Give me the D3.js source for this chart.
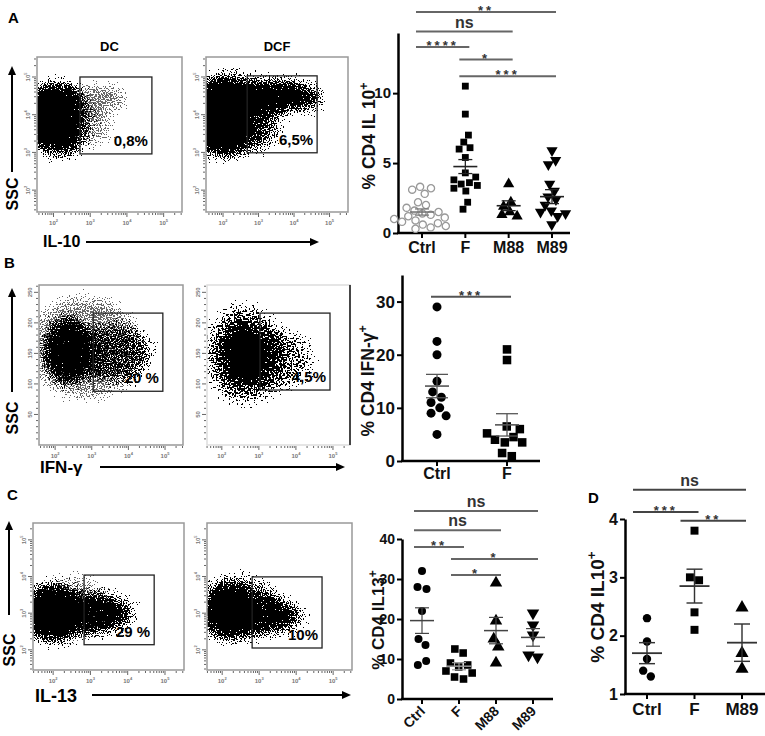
<!DOCTYPE html>
<html>
<head>
<meta charset="utf-8">
<script src="https://cdn.jsdelivr.net/npm/d3@7"></script>
<style>
body { margin: 0; background: #fff; }
text { font-family: "Liberation Sans", Arial, sans-serif; font-weight: bold; }
</style>
</head>
<body>
<svg id="fig" width="765" height="736"></svg>
<script>
// ---------- dot plot data ----------
// A : % CD4 IL10+
var catsA = ["Ctrl", "F", "M88", "M89"];
var il10Ctrl = [3.3, 3.2, 3.1, 2.8, 2.2, 2.0, 1.8, 1.6, 1.5, 1.4, 1.3, 1.2, 1.1, 1.0, 0.9, 0.8, 0.7, 0.6, 0.5, 0.4, 0.3];
var il10F = [10.5, 8.5, 7.0, 6.5, 6.1, 6.0, 5.4, 4.3, 4.0, 3.8, 3.6, 3.5, 3.4, 3.2, 3.0, 2.2, 1.7];
var il10M88 = [3.5, 2.2, 1.9, 1.5, 1.3, 1.2];
var il10M89 = [5.9, 5.2, 4.9, 3.5, 3.0, 2.6, 2.4, 2.0, 1.6, 1.5, 1.4, 1.2, 0.6];
var il10Mean = [1.5, 4.75, 1.95, 2.6];
var il10Sem = [0.22, 0.5, 0.35, 0.5];
var il10Ticks = [0, 5, 10];
// [from, to, label, height in axis units]
var il10Sig = [["Ctrl", "M89", "**", 15.8], ["Ctrl", "M88", "ns", 14.4], ["Ctrl", "F", "****", 13.3],
               ["F", "M88", "*", 12.4], ["F", "M89", "***", 11.2]];

// B : % CD4 IFN-g+
var catsB = ["Ctrl", "F"];
var ifnCtrl = [29, 22.5, 20, 15, 13, 12, 11, 10, 9, 8.5, 5];
var ifnF = [21, 19, 6.5, 6.0, 5.2, 4.5, 4.0, 3.5, 3.5, 1.5, 0.9];
var ifnMean = [14.1, 6.8];
var ifnSem = [2.2, 2.1];
var ifnTicks = [0, 10, 20, 30];
var ifnSig = [["Ctrl", "F", "***", 30.9]];

// C : % CD4 IL13+
var catsC = ["Ctrl", "F", "M88", "M89"];
var il13Ctrl = [32, 28, 27.5, 22, 15, 13.5, 9.5, 8.5];
var il13F = [12.5, 11.5, 9.0, 8.5, 8.0, 7.0, 6.5, 5.5, 5.0];
var il13M88 = [29, 19.5, 15, 13, 9];
var il13M89 = [21.5, 18.5, 16, 11, 10.5];
var il13Mean = [19.6, 8.2, 17.1, 15.4];
var il13Sem = [3.2, 0.9, 3.3, 2.2];
var il13Ticks = [0, 10, 20, 30, 40];
var il13Sig = [["Ctrl", "M89", "ns", 47], ["Ctrl", "M88", "ns", 42.2], ["Ctrl", "F", "**", 38],
               ["F", "M89", "*", 35], ["F", "M88", "*", 31]];

// D : % CD4 IL10+
var catsD = ["Ctrl", "F", "M89"];
var dIl10Ctrl = [2.3, 1.9, 1.6, 1.4, 1.3];
var dIl10F = [3.8, 3.0, 2.95, 2.4, 2.1];
var dIl10M89 = [2.48, 1.7, 1.43];
var dIl10Mean = [1.7, 2.85, 1.88];
var dIl10Sem = [0.18, 0.29, 0.32];
var dIl10Ticks = [1, 2, 3, 4];
var dIl10Sig = [["Ctrl", "M89", "ns", 4.5], ["Ctrl", "F", "***", 4.12], ["F", "M89", "**", 3.97]];

// ---------- flow cytometry data ----------
// event populations: [log10 fluor centre, SSC centre, fluor spread, SSC spread, density, tone]
var dcPops = [[2.05, 4.3, 0.68, 0.48, 1, "k"], [2.05, 3.55, 0.68, 0.45, 1, "k"], [2.2, 3.85, 0.85, 0.95, 0.5, "k"],
              [3.2, 4.45, 0.75, 0.3, 0.58, "g"], [3.0, 3.7, 0.55, 0.45, 0.5, "g"]];
var dcfPops = [[2.0, 4.4, 0.75, 0.55, 1, "k"], [2.0, 3.6, 0.75, 0.65, 1, "k"], [3.3, 4.5, 1.15, 0.38, 0.95, "k"],
               [4.3, 4.45, 0.5, 0.3, 0.6, "k"], [3.0, 3.7, 0.6, 0.6, 0.5, "k"], [2.2, 4.0, 1.0, 1.05, 0.52, "k"]];
var ifnDcPops = [[2.35, 155, 0.6, 52, 0.95, "k"], [3.6, 150, 1.0, 46, 0.62, "k"], [2.8, 160, 1.5, 80, 0.55, "g"]];
var ifnDcfPops = [[2.6, 148, 0.52, 46, 1, "d"], [2.6, 148, 1.0, 78, 0.52, "d"], [3.6, 140, 0.8, 45, 0.48, "d"]];
var il13DcPops = [[2.0, 3.0, 0.85, 0.72, 1, "k"], [3.1, 3.0, 0.75, 0.5, 0.92, "k"], [3.8, 3.0, 0.36, 0.34, 0.62, "k"],
                  [2.5, 3.15, 1.05, 0.78, 0.5, "g"]];
var il13DcfPops = [[2.2, 3.05, 0.7, 0.72, 1, "k"], [3.1, 2.95, 0.8, 0.46, 0.86, "k"], [3.8, 2.9, 0.36, 0.3, 0.58, "k"],
                   [2.5, 3.15, 1.0, 0.8, 0.5, "k"]];
// gates: [x0, y0, x1, y1] in data units, and the % read in each
var dcGate = [2.72, 2.96, 4.68, 5.0], dcfGate = [2.68, 2.99, 4.65, 5.03];
var ifnDcGate = [3.04, 88, 4.94, 216], ifnDcfGate = [3.03, 90, 4.92, 216];
var il13DcGate = [2.83, 2.14, 4.71, 4.04], il13DcfGate = [2.81, 2.05, 4.70, 3.99];
var gatePct = ["0,8%", "6,5%", "20 %", "4,5%", "29 %", "10%"];
var logTickLabels = [2, 3, 4, 5];
var sscTickLabels = [50, 100, 150, 200, 250];

var svg = d3.select("#fig");
var defs = svg.append("defs");

//speckle filter: blurred density minus noise, thresholded -> looks like a dot cloud
//(baseFrequency must stay off whole numbers, perlin noise is flat on its lattice)
function speckFilter(id, color, freq, seed) {
	var f = defs.append("filter").attr("id", id)
		.attr("filterUnits", "userSpaceOnUse")
		.attr("x", 0).attr("y", 0).attr("width", 765).attr("height", 736)
		.attr("color-interpolation-filters", "sRGB");
	f.append("feGaussianBlur").attr("in", "SourceAlpha").attr("stdDeviation", 7).attr("result", "b");
	f.append("feTurbulence").attr("type", "fractalNoise").attr("baseFrequency", freq)
		.attr("numOctaves", 1).attr("seed", seed).attr("result", "n");
	f.append("feColorMatrix").attr("in", "n").attr("type", "matrix")
		.attr("values", "0 0 0 0 0 0 0 0 0 0 0 0 0 0 0 2.2 0 0 0 -0.6").attr("result", "na");
	f.append("feComposite").attr("in", "b").attr("in2", "na").attr("operator", "arithmetic")
		.attr("k1", 0).attr("k2", 1.15).attr("k3", -1).attr("k4", 0).attr("result", "d");
	f.append("feComponentTransfer").attr("in", "d").attr("result", "t")
		.append("feFuncA").attr("type", "discrete").attr("tableValues", "0 1 1 1 1 1 1 1 1 1");
	f.append("feFlood").attr("flood-color", color).attr("result", "c");
	f.append("feComposite").attr("in", "c").attr("in2", "t").attr("operator", "in");
}
speckFilter("speck-k", "#000", 0.85, 3);
speckFilter("speck-g", "#666", 0.75, 7);
speckFilter("speck-d", "#000", 0.55, 11);

var flowCount = 0;
function flowPlot(p) {
	flowCount++;
	var g = svg.append("g");
	var x = d3.scaleLinear().domain(p.xDomain).range([p.box[0], p.box[2]]);
	var y = d3.scaleLinear().domain(p.yDomain).range([p.box[3], p.box[1]]);
	var clipId = "flowclip" + flowCount;
	defs.append("clipPath").attr("id", clipId).append("rect")
		.attr("x", p.box[0]).attr("y", p.box[1])
		.attr("width", p.box[2] - p.box[0]).attr("height", p.box[3] - p.box[1]);

	//blur eats into the shapes, so grow them a little
	var grow = 3;
	var cl = g.append("g").attr("clip-path", "url(#" + clipId + ")");
	["g", "k", "d"].forEach(function(tone) {
		var pops = p.pops.filter(function(d) { return d[5] === tone; });
		if (!pops.length) return;
		cl.append("g").attr("filter", "url(#speck-" + tone + ")")
			.selectAll("ellipse").data(pops).enter().append("ellipse")
			.attr("cx", function(d) { return x(d[0]); })
			.attr("cy", function(d) { return y(d[1]); })
			.attr("rx", function(d) { return Math.abs(x(d[0] + d[2]) - x(d[0])) + grow; })
			.attr("ry", function(d) { return Math.abs(y(d[1] + d[3]) - y(d[1])) + grow; })
			.attr("fill", "#000")
			.attr("fill-opacity", function(d) { return d[4]; });
	});

	//frame
	g.append("rect")
		.attr("x", p.box[0]).attr("y", p.box[1])
		.attr("width", p.box[2] - p.box[0]).attr("height", p.box[3] - p.box[1])
		.attr("fill", "none").attr("stroke", p.frame || "#999").attr("stroke-width", 1.5);
	if (p.rightEdge) {
		g.append("line").attr("x1", p.box[2]).attr("x2", p.box[2]).attr("y1", p.box[1]).attr("y2", p.box[3])
			.attr("stroke", "#111").attr("stroke-width", 1.5);
	}

	//bottom log ticks
	var xt = [];
	for (var dd = Math.floor(p.xDomain[0]); dd <= p.xDomain[1]; dd++) {
		for (var k = 1; k < 10; k++) {
			var v = dd + Math.log10(k);
			if (v > p.xDomain[0] && v < p.xDomain[1]) xt.push({v: v, major: k === 1});
		}
	}
	g.selectAll(".xt").data(xt).enter().append("line")
		.attr("x1", function(d) { return x(d.v); }).attr("x2", function(d) { return x(d.v); })
		.attr("y1", p.box[3] + 1).attr("y2", function(d) { return p.box[3] + (d.major ? 5 : 3); })
		.attr("stroke", "#555").attr("stroke-width", 0.9);
	var xl = g.selectAll(".xl").data(logTickLabels).enter().append("text")
		.attr("x", function(d) { return x(d); }).attr("y", p.box[3] + 13)
		.attr("text-anchor", "middle").attr("font-size", 6).attr("fill", "#777").attr("font-weight", "normal")
		.text("10");
	xl.append("tspan").attr("dy", -3).attr("font-size", 4).text(function(d) { return d; });

	//left ticks
	var yt = [];
	if (p.yLog) {
		for (var e = Math.floor(p.yDomain[0]); e <= p.yDomain[1]; e++) {
			for (var k2 = 1; k2 < 10; k2++) {
				var w = e + Math.log10(k2);
				if (w > p.yDomain[0] && w < p.yDomain[1]) yt.push({v: w, major: k2 === 1});
			}
		}
	} else {
		for (var s = 10; s < p.yDomain[1]; s += 10) yt.push({v: s, major: s % 50 === 0});
	}
	g.selectAll(".yt").data(yt).enter().append("line")
		.attr("y1", function(d) { return y(d.v); }).attr("y2", function(d) { return y(d.v); })
		.attr("x1", p.box[0] - 1).attr("x2", function(d) { return p.box[0] - (d.major ? 5 : 3); })
		.attr("stroke", "#555").attr("stroke-width", 0.9);
	var ylabs = p.yLog ? logTickLabels : sscTickLabels;
	var yl = g.selectAll(".yl").data(ylabs).enter().append("text")
		.attr("transform", function(d) { return "translate(" + (p.box[0] - 7) + "," + y(d) + ") rotate(-90)"; })
		.attr("text-anchor", "middle").attr("font-size", 6).attr("fill", "#777").attr("font-weight", "normal")
		.text(function(d) { return p.yLog ? "10" : d; });
	if (p.yLog) yl.append("tspan").attr("dy", -3).attr("font-size", 4).text(function(d) { return d; });

	//gate
	g.append("rect")
		.attr("x", x(p.gate[0])).attr("y", y(p.gate[3]))
		.attr("width", x(p.gate[2]) - x(p.gate[0])).attr("height", y(p.gate[1]) - y(p.gate[3]))
		.attr("fill", "none").attr("stroke", "#222").attr("stroke-width", 1.3);
	g.append("text")
		.attr("x", x(p.gate[2]) - 4).attr("y", y(p.gate[1]) - 8)
		.attr("text-anchor", "end").attr("font-size", 15)
		.text(p.pct);
	if (p.title) {
		g.append("text").attr("x", (p.box[0] + p.box[2]) / 2).attr("y", p.box[1] - 6)
			.attr("text-anchor", "middle").attr("font-size", 13).text(p.title);
	}
}

//arrowed axis captions for each flow row
function flowCaptions(c) {
	var g = svg.append("g");
	g.append("line").attr("x1", c.sx).attr("x2", c.sx).attr("y1", c.sy1).attr("y2", c.sy0 + 8)
		.attr("stroke", "#000").attr("stroke-width", 2);
	g.append("path").attr("d", "M" + (c.sx - 4) + "," + (c.sy0 + 9) + "L" + c.sx + "," + c.sy0 + "L" + (c.sx + 4) + "," + (c.sy0 + 9) + "Z");
	g.append("text").attr("transform", "translate(" + (c.sx + 6) + "," + c.sscY + ") rotate(-90)")
		.attr("text-anchor", "middle").attr("font-size", 16).text("SSC");
	g.append("line").attr("x1", c.ax0).attr("x2", c.ax1 - 8).attr("y1", c.ay).attr("y2", c.ay)
		.attr("stroke", "#000").attr("stroke-width", 2);
	g.append("path").attr("d", "M" + (c.ax1 - 9) + "," + (c.ay - 4) + "L" + c.ax1 + "," + c.ay + "L" + (c.ax1 - 9) + "," + (c.ay + 4) + "Z");
	g.append("text").attr("x", c.lx).attr("y", c.ly).attr("font-size", c.lsize).text(c.label);
}

function panelLetter(t, x, y) {
	svg.append("text").attr("x", x).attr("y", y).attr("font-size", 15).text(t);
}

//scatter / dot plot with mean +- sem
function dotPlot(p) {
	var g = svg.append("g");
	var y = d3.scaleLinear().domain(p.domain).range([p.bottom, p.top]);
	var x = d3.scalePoint().domain(p.cats).range(p.catRange);

	var yAxis = d3.axisLeft(y).tickValues(p.ticks).tickSize(5).tickSizeOuter(0).tickPadding(2).tickFormat(d3.format("d"));
	var ga = g.append("g").attr("transform", "translate(" + p.left + ",0)").call(yAxis);
	ga.attr("font-size", null).attr("font-family", null);
	ga.select(".domain").attr("stroke-width", 2.5);
	ga.selectAll(".tick line").attr("stroke-width", 2);
	ga.selectAll(".tick text").style("font-size", p.tickSize + "px").attr("fill", "#111");

	g.append("line").attr("x1", p.left - 1).attr("x2", p.right).attr("y1", p.bottom).attr("y2", p.bottom)
		.attr("stroke", "#000").attr("stroke-width", 2.5);
	g.selectAll(".xt").data(p.cats).enter().append("line")
		.attr("x1", function(d) { return x(d); }).attr("x2", function(d) { return x(d); })
		.attr("y1", p.bottom).attr("y2", p.bottom + 5)
		.attr("stroke", "#000").attr("stroke-width", 2);
	var cl = g.selectAll(".cl").data(p.cats).enter().append("text")
		.attr("font-size", p.catSize).attr("fill", "#111").text(function(d) { return d; });
	if (p.rotateCats) {
		cl.attr("text-anchor", "end")
			.attr("transform", function(d) { return "translate(" + (x(d) + 4) + "," + (p.bottom + 13) + ") rotate(-45)"; });
	} else {
		cl.attr("text-anchor", "middle").attr("x", function(d) { return x(d); }).attr("y", p.bottom + p.catDy);
	}

	//y label
	var yl = g.append("text").attr("transform", "translate(" + p.labelX + "," + p.labelY + ") rotate(-90)")
		.attr("text-anchor", "middle").attr("dy", "0.35em").attr("font-size", p.labelSize).attr("fill", "#111");
	yl.append("tspan").text(p.label);
	yl.append("tspan").attr("dy", -p.labelSize * 0.4).attr("font-size", p.labelSize * 0.7).text("+");

	//beeswarm layout, y fixed to the value
	var nodes = [];
	p.groups.forEach(function(vals, gi) {
		vals.forEach(function(v) {
			nodes.push({g: gi, v: v, x: x(p.cats[gi]), fy: y(v)});
		});
	});
	var sim = d3.forceSimulation(nodes)
		.force("x", d3.forceX(function(d) { return x(p.cats[d.g]); }).strength(0.12))
		.force("c", d3.forceCollide(p.r + 0.6))
		.stop();
	for (var i = 0; i < 250; i++) sim.tick();

	var sym = {circle: d3.symbolCircle, open: d3.symbolCircle, square: d3.symbolSquare,
	           up: d3.symbolTriangle, down: d3.symbolTriangle};
	g.selectAll(".pt").data(nodes).enter().append("path")
		.attr("d", function(d) {
			var s = p.shapes[d.g];
			var area = s === "square" ? p.r * p.r * 3.6 : (s === "up" || s === "down") ? p.r * p.r * 4.2 : Math.PI * p.r * p.r;
			return d3.symbol().type(sym[s]).size(area)();
		})
		.attr("transform", function(d) {
			return "translate(" + d.x + "," + d.fy + ")" + (p.shapes[d.g] === "down" ? " rotate(180)" : "");
		})
		.attr("fill", function(d) { return p.shapes[d.g] === "open" ? "#fff" : "#000"; })
		.attr("stroke", function(d) { return p.shapes[d.g] === "open" ? "#999" : "none"; })
		.attr("stroke-width", 1.3);

	//mean +- sem
	p.cats.forEach(function(c, gi) {
		var cx = x(c), col = p.barColors[gi];
		var m = y(p.means[gi]), hi = y(p.means[gi] + p.sems[gi]), lo = y(p.means[gi] - p.sems[gi]);
		g.append("line").attr("x1", cx - p.meanW).attr("x2", cx + p.meanW).attr("y1", m).attr("y2", m)
			.attr("stroke", col).attr("stroke-width", p.barStroke);
		g.append("line").attr("x1", cx).attr("x2", cx).attr("y1", hi).attr("y2", lo)
			.attr("stroke", col).attr("stroke-width", p.barStroke * 0.8);
		[hi, lo].forEach(function(yy) {
			g.append("line").attr("x1", cx - p.capW).attr("x2", cx + p.capW).attr("y1", yy).attr("y2", yy)
				.attr("stroke", col).attr("stroke-width", p.barStroke * 0.8);
		});
	});

	//significance bars
	p.sig.forEach(function(s) {
		var x0 = x(s[0]) + p.sigPad[0], x1 = x(s[1]) + p.sigPad[1], yy = y(s[3]);
		g.append("line").attr("x1", x0).attr("x2", x1).attr("y1", yy).attr("y2", yy)
			.attr("stroke", p.sigColor).attr("stroke-width", 2);
		var t = g.append("text").attr("x", (x0 + x1) / 2).attr("text-anchor", "middle").attr("fill", "#333").text(s[2]);
		if (s[2] === "ns") t.attr("y", yy - 4).attr("font-size", 16);
		else t.attr("y", yy + 3).attr("font-size", 13).attr("letter-spacing", 3);
	});
}

// ---------- panel A ----------
panelLetter("A", 8, 23);
flowPlot({box: [37, 57, 182, 212], xDomain: [1.55, 5.5], yDomain: [1.42, 5.53], yLog: true,
	pops: dcPops, gate: dcGate, pct: gatePct[0], title: "DC"});
flowPlot({box: [206, 57, 348, 212], xDomain: [1.52, 5.52], yDomain: [1.42, 5.53], yLog: true,
	pops: dcfPops, gate: dcfGate, pct: gatePct[1], title: "DCF"});
flowCaptions({sx: 12, sy0: 66, sy1: 172, sscY: 194, ax0: 86, ax1: 319, ay: 242, lx: 43, ly: 247, lsize: 16, label: "IL-10"});

dotPlot({left: 398, right: 570, top: 33, bottom: 233, domain: [0, 14.3], ticks: il10Ticks,
	cats: catsA, catRange: [422, 552], groups: [il10Ctrl, il10F, il10M88, il10M89],
	shapes: ["open", "square", "up", "down"], r: 3.6, means: il10Mean, sems: il10Sem,
	barColors: ["#777", "#222", "#222", "#222"], barStroke: 1.6, meanW: 12, capW: 7,
	sig: il10Sig, sigPad: [-6, 4], sigColor: "#666",
	tickSize: 15, catSize: 16, catDy: 20, label: "% CD4 IL 10", labelX: 369, labelY: 136, labelSize: 17.5});

// ---------- panel B ----------
panelLetter("B", 4, 268);
flowPlot({box: [39, 285, 183, 445], xDomain: [1.56, 5.49], yDomain: [0, 262], yLog: false,
	pops: ifnDcPops, gate: ifnDcGate, pct: gatePct[2]});
flowPlot({box: [207, 285, 350, 445], xDomain: [1.6, 5.46], yDomain: [0, 262], yLog: false,
	pops: ifnDcfPops, gate: ifnDcfGate, pct: gatePct[3], frame: "#ddd", rightEdge: true});
flowCaptions({sx: 12, sy0: 288, sy1: 392, sscY: 418, ax0: 100, ax1: 345, ay: 467, lx: 40, ly: 473, lsize: 17, label: "IFN-γ"});

dotPlot({left: 402, right: 540, top: 275, bottom: 461, domain: [0, 35], ticks: ifnTicks,
	cats: catsB, catRange: [437, 507], groups: [ifnCtrl, ifnF],
	shapes: ["circle", "square"], r: 4.5, means: ifnMean, sems: ifnSem,
	barColors: ["#555", "#555"], barStroke: 1.6, meanW: 12, capW: 11,
	sig: ifnSig, sigPad: [-6, 4], sigColor: "#555",
	tickSize: 17, catSize: 16, catDy: 18, label: "% CD4 IFN-γ", labelX: 368, labelY: 381, labelSize: 17.5});

// ---------- panel C ----------
panelLetter("C", 7, 500);
flowPlot({box: [33, 523, 184, 670], xDomain: [1.46, 5.51], yDomain: [1.45, 5.46], yLog: true,
	pops: il13DcPops, gate: il13DcGate, pct: gatePct[4]});
flowPlot({box: [207, 523, 352, 670], xDomain: [1.59, 5.51], yDomain: [1.45, 5.46], yLog: true,
	pops: il13DcfPops, gate: il13DcfGate, pct: gatePct[5]});
flowCaptions({sx: 9, sy0: 521, sy1: 615, sscY: 650, ax0: 92, ax1: 351, ay: 695, lx: 35, ly: 702, lsize: 18, label: "IL-13"});

dotPlot({left: 402, right: 553, top: 539, bottom: 699, domain: [0, 40], ticks: il13Ticks,
	cats: catsC, catRange: [422, 533], groups: [il13Ctrl, il13F, il13M88, il13M89],
	shapes: ["circle", "square", "up", "down"], r: 4, means: il13Mean, sems: il13Sem,
	barColors: ["#444", "#999", "#444", "#444"], barStroke: 1.5, meanW: 12, capW: 7,
	sig: il13Sig, sigPad: [-8, 5], sigColor: "#666", rotateCats: true,
	tickSize: 14, catSize: 14, label: "% CD4 IL13", labelX: 378, labelY: 620, labelSize: 17});

// ---------- panel D ----------
panelLetter("D", 588, 503);
dotPlot({left: 625, right: 765, top: 519, bottom: 694, domain: [1, 4], ticks: dIl10Ticks,
	cats: catsD, catRange: [647, 742], groups: [dIl10Ctrl, dIl10F, dIl10M89],
	shapes: ["circle", "square", "up"], r: 4.2, means: dIl10Mean, sems: dIl10Sem,
	barColors: ["#333", "#333", "#333"], barStroke: 1.8, meanW: 15, capW: 8,
	sig: dIl10Sig, sigPad: [-14, 4], sigColor: "#444",
	tickSize: 16, catSize: 17, catDy: 21, label: "% CD4 IL10", labelX: 597, labelY: 607, labelSize: 19});
</script>
</body>
</html>
